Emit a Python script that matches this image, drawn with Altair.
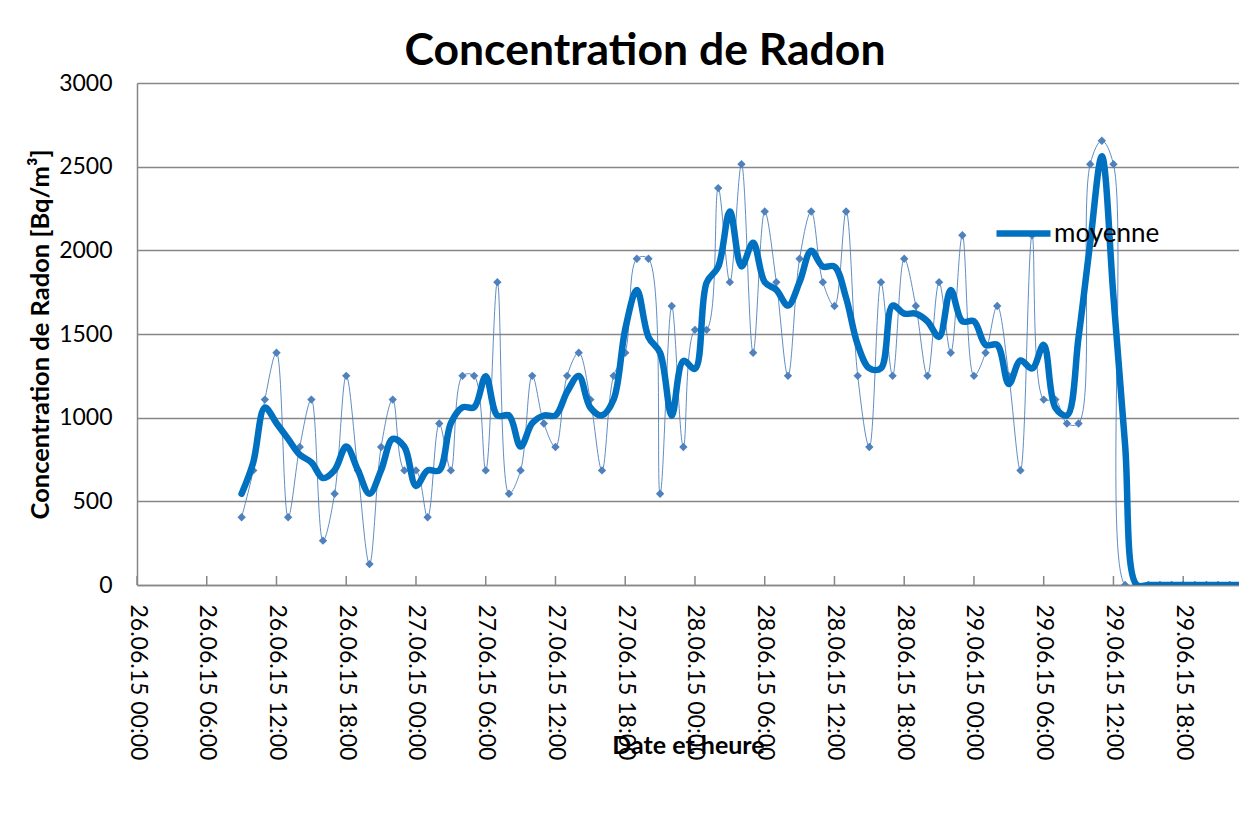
import altair as alt
import pandas as pd

# ---- data ----
START = "2015-06-26T00:00:00"
HOURS = list(range(9, 96))  # hourly readings from 26.06.15 09:00 on

RADON = [
    405, 685, 1108, 1388, 405, 825, 1108, 265, 545, 1250,
    685, 125, 825, 1108, 685, 685, 405, 965, 685, 1250,
    1250, 685, 1810, 545, 685, 1250, 965, 825, 1250, 1388,
    1108, 685, 1250, 1388, 1950, 1950, 545, 1667, 825, 1525,
    1525, 2372, 1810, 2515, 1388, 2232, 1810, 1250, 1950, 2232,
    1810, 1667, 2232, 1250, 825, 1810, 1250, 1950, 1667, 1250,
    1810, 1388, 2090, 1250, 1388, 1667, 1250, 685, 2090, 1108,
    1108, 965, 965, 2515, 2655, 2515, 0, 0, 0, 0,
    0, 0, 0, 0, 0, 0, 0,
]

MOYENNE = [
    545, 733, 1060, 967, 873, 779, 733, 639, 687, 827,
    687, 545, 686, 873, 826, 592, 685, 685, 967, 1062,
    1062, 1248, 1013, 1013, 827, 967, 1013, 1013, 1154, 1249,
    1060, 1014, 1108, 1529, 1763, 1482, 1387, 1012, 1339, 1292,
    1807, 1902, 2232, 1904, 2045, 1810, 1764, 1670, 1811, 1997,
    1903, 1903, 1716, 1436, 1295, 1295, 1670, 1622, 1622, 1576,
    1483, 1763, 1576, 1576, 1435, 1435, 1201, 1342, 1294, 1435,
    1060, 1013, 1482, 2045, 2562, 1723, 838, 0, 0, 0,
    0, 0, 0, 0, 0, 0, 0,
]

TICK_HOURS = list(range(0, 91, 6))
Y_TICKS = [0, 500, 1000, 1500, 2000, 2500, 3000]
VISIBLE_END = "2015-06-29T22:48:00"  # right edge of the visible plot

# ---- tables ----
start = pd.Timestamp(START)
end = pd.Timestamp(VISIBLE_END)
fmt = "%Y-%m-%dT%H:%M:%S"
times = [(start + pd.Timedelta(hours=h)).strftime(fmt) for h in HOURS]
df_raw = pd.DataFrame({"t": times, "radon": RADON})
df_moy = pd.DataFrame({"t": times, "v": MOYENNE, "serie": ["moyenne"] * len(times)})
tick_times = [(start + pd.Timedelta(hours=h)) for h in TICK_HOURS]
df_ticks = pd.DataFrame({"t": [t.strftime(fmt) for t in tick_times]})


def dt(ts):
    return alt.DateTime(year=ts.year, month=ts.month, date=ts.day,
                        hours=ts.hour, minutes=ts.minute)


PLOT_W = 1102
PLOT_H = 502
GRAY = "#878787"
FONT = "Lato"

x_scale = alt.Scale(domain=[dt(start), dt(end)], nice=False)
y_scale = alt.Scale(domain=[0, 3000], nice=False)

x_axis = alt.Axis(
    values=[dt(t) for t in tick_times],
    format="%d.%m.%y %H:%M",
    labelAngle=90,
    labelAlign="left",
    labelBaseline="middle",
    labelFontSize=23,
    labelFont=FONT,
    labelColor="black",
    labelPadding=19,
    labelFlush=False,
    labelOverlap=False,
    labelLimit=300,
    ticks=False,
    grid=False,
    domainColor=GRAY,
    domainWidth=1.5,
    title="Date et heure",
    titleFont=FONT,
    titleFontSize=25,
    titleFontWeight="bold",
    titleColor="black",
    titleX=551,
    titleY=160,
    titleAlign="center",
    titleBaseline="middle",
)

y_axis = alt.Axis(
    values=Y_TICKS,
    format="d",
    labelFontSize=23,
    labelFont=FONT,
    labelColor="black",
    labelPadding=25,
    ticks=False,
    grid=True,
    gridColor=GRAY,
    gridWidth=1.5,
    domainColor=GRAY,
    domainWidth=1.5,
    title="Concentration de Radon  [Bq/m³]",
    titleFont=FONT,
    titleFontSize=25.5,
    titleFontWeight="bold",
    titleColor="black",
    titleAngle=270,
    titleX=-97,
    titleY=PLOT_H / 2,
    titleAlign="center",
    titleBaseline="middle",
)

X = alt.X("t:T", scale=x_scale, axis=x_axis)

ticks = alt.Chart(df_ticks).mark_rule(color=GRAY, strokeWidth=1.5).encode(
    x=X,
    y=alt.value(PLOT_H - 9),
    y2=alt.value(PLOT_H),
)

thin = alt.Chart(df_raw).mark_line(
    interpolate="catmull-rom", color="#4F81BD", strokeWidth=1, opacity=0.9, clip=True
).encode(x=X, y=alt.Y("radon:Q", scale=y_scale, axis=y_axis))

pts = alt.Chart(df_raw).mark_point(
    shape="diamond", filled=True, size=70, color="#4F81BD", opacity=1, clip=True
).encode(x=X, y=alt.Y("radon:Q", scale=y_scale, axis=y_axis))

thick = alt.Chart(df_moy).mark_line(
    interpolate="catmull-rom", strokeWidth=6.5, strokeCap="round",
    strokeJoin="round", clip=True
).encode(
    x=X,
    y=alt.Y("v:Q", scale=y_scale, axis=y_axis),
    color=alt.Color(
        "serie:N",
        scale=alt.Scale(domain=["moyenne"], range=["#0070C0"]),
        legend=alt.Legend(
            title=None,
            orient="none",
            legendX=856,
            legendY=120,
            padding=0,
            symbolType="stroke",
            symbolSize=2916,
            symbolStrokeWidth=6.5,
            labelFontSize=26,
            labelFont=FONT,
            labelColor="black",
            labelOffset=0,
        ),
    ),
)

chart = (
    alt.layer(ticks, thin, pts, thick)
    .properties(
        width=PLOT_W,
        height=PLOT_H,
        autosize=alt.AutoSizeParams(type="none"),
        padding={"left": 129, "top": 75, "right": 0, "bottom": 225},
        title=alt.TitleParams(
            "Concentration de Radon",
            font=FONT,
            fontSize=44.5,
            fontWeight="bold",
            color="black",
            anchor="middle",
            frame="group",
            dx=-43,
            baseline="alphabetic",
            offset=-37,
        ),
    )
    .configure_view(stroke="transparent")
    .configure(background="white")
)

chart.save("out.html", embed_options={"renderer": "svg", "actions": False})
